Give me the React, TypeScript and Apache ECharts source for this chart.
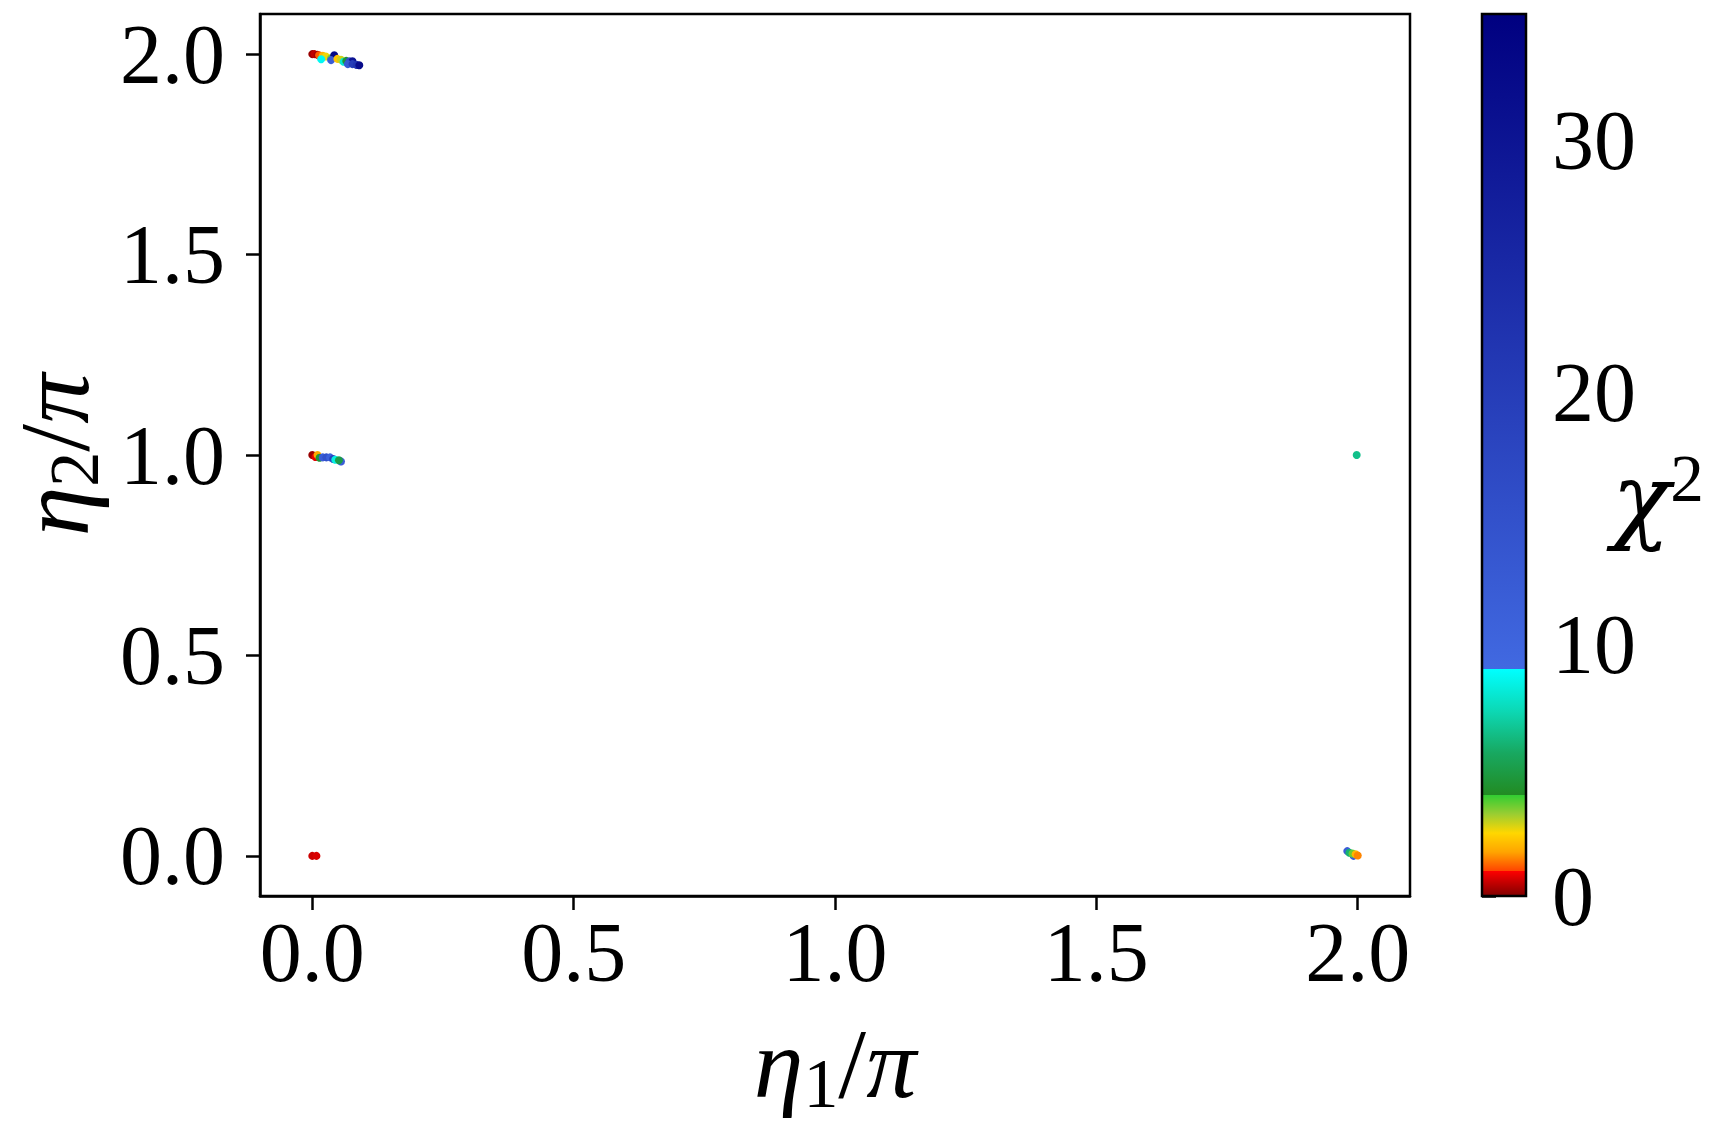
import React, { useEffect, useRef } from "react";
import * as echarts from "echarts";

// ---------- data ----------
const xTickValues = [0, 0.5, 1.0, 1.5, 2.0];
const yTickValues = [0, 0.5, 1.0, 1.5, 2.0];
const cbTickValues = [0, 10, 20, 30];

// eta1/pi, eta2/pi, chi^2 for each point
const eta1 = [
  // cluster near (0, 2)
  0.000, 0.004, 0.010, 0.013, 0.020, 0.026, 0.017, 0.036, 0.042, 0.036,
  0.048, 0.055, 0.060, 0.065, 0.071, 0.077, 0.068, 0.077, 0.085, 0.090,
  // cluster near (0, 1)
  0.000, 0.006, 0.010, 0.014, 0.020, 0.027, 0.034, 0.040, 0.044, 0.055, 0.051,
  // cluster near (0, 0)
  0.000, 0.008,
  // point at (2, 1)
  1.998,
  // cluster near (2, 0)
  1.980, 1.992, 1.984, 1.990, 1.996, 2.000,
];
const eta2 = [
  2.000, 2.000, 1.998, 1.997, 1.996, 1.994, 1.987, 1.990, 1.997, 1.985,
  1.988, 1.986, 1.981, 1.983, 1.982, 1.982, 1.975, 1.975, 1.973, 1.972,
  1.000, 0.995, 1.000, 0.993, 0.994, 0.994, 0.994, 0.990, 0.988, 0.984, 0.987,
  0.000, 0.000,
  1.000,
  0.012, 0.000, 0.008, 0.006, 0.004, 0.001,
];
const chi2 = [
  0.2, 0.5, 0.3, 1.2, 2.0, 2.6, 8.7, 3.5, 33, 12,
  2.2, 2.9, 8.0, 4.5, 16, 30, 13, 20, 22, 32,
  0.2, 0.8, 1.8, 4.6, 12, 15, 11, 19, 8.3, 12, 5.0,
  0.6, 0.7,
  6.5,
  12, 12, 6.0, 3.6, 2.0, 1.5,
];

const CHI_MIN = 0;
const CHI_MAX = 35;

// colormap segments (style)
const cmapSegments = [
  { lo: 0, hi: 1, colors: ["#800000", "#ff0000"] },
  { lo: 1, hi: 4, colors: ["#ff4500", "#ffa500", "#ffd700", "#9acd32", "#32cd32"] },
  { lo: 4, hi: 9, colors: ["#228b22", "#18a860", "#0cd8b4", "#00ffff"] },
  { lo: 9, hi: 35, colors: ["#4169e1", "#000080"] },
];

const FONT = "'Liberation Serif', 'DejaVu Serif', serif";
const GREEK_FONT = "'DejaVu Serif', 'Liberation Serif', serif";

function hexToRgb(h: string) {
  const n = parseInt(h.slice(1), 16);
  return [(n >> 16) & 255, (n >> 8) & 255, n & 255];
}
function mix(a: string, b: string, t: number) {
  const A = hexToRgb(a);
  const B = hexToRgb(b);
  const c = A.map((v, i) => Math.round(v + (B[i] - v) * t));
  return `rgb(${c[0]},${c[1]},${c[2]})`;
}
function cmap(v: number) {
  let seg = cmapSegments[cmapSegments.length - 1];
  for (const s of cmapSegments) {
    if (v >= s.lo && v < s.hi) {
      seg = s;
      break;
    }
  }
  const t = Math.max(0, Math.min(1, (v - seg.lo) / (seg.hi - seg.lo)));
  const n = seg.colors.length;
  const pos = t * (n - 1);
  const i0 = Math.min(n - 2, Math.floor(pos));
  return mix(seg.colors[i0], seg.colors[i0 + 1], pos - i0);
}
function gradientStops() {
  const stops: { offset: number; color: string }[] = [];
  for (let s = cmapSegments.length - 1; s >= 0; s--) {
    const seg = cmapSegments[s];
    const n = seg.colors.length;
    for (let k = n - 1; k >= 0; k--) {
      const value = seg.lo + ((seg.hi - seg.lo) * k) / (n - 1);
      stops.push({ offset: (CHI_MAX - value) / (CHI_MAX - CHI_MIN), color: seg.colors[k] });
    }
  }
  return stops;
}

const mathRich = (size: number) => ({
  i: { fontFamily: FONT, fontStyle: "italic", fontSize: size, color: "#000", lineHeight: size * 1.1 },
  c: { fontFamily: GREEK_FONT, fontStyle: "italic", fontSize: size, color: "#000", lineHeight: size * 1.1 },
  n: { fontFamily: FONT, fontSize: size, color: "#000", lineHeight: size * 1.1 },
  s: {
    fontFamily: FONT,
    fontSize: size * 0.7,
    color: "#000",
    lineHeight: size * 0.7,
    verticalAlign: "bottom",
  },
  p: {
    fontFamily: FONT,
    fontSize: size * 0.7,
    color: "#000",
    lineHeight: size * 0.7,
    verticalAlign: "top",
  },
});

export default function App() {
  const ref = useRef<HTMLDivElement>(null);
  useEffect(() => {
    if (!ref.current) return;
    const chart = echarts.init(ref.current, undefined, { renderer: "svg" });
    const axisLineStyle = { color: "#000", width: 2.5 };
    const tickLabel = { fontSize: 84, color: "#000", fontFamily: FONT };

    const points = eta1.map((x, i) => [x, eta2[i], chi2[i]]);

    chart.setOption({
      animation: false,
      backgroundColor: "#fff",
      grid: [
        {
          left: 260,
          top: 14,
          width: 1150,
          height: 882,
          show: true,
          borderColor: "#000",
          borderWidth: 2.5,
          backgroundColor: "rgba(0,0,0,0)",
          containLabel: false,
          outerBoundsMode: "none",
        },
        {
          left: 1482,
          top: 14,
          width: 44,
          height: 882,
          show: false,
          containLabel: false,
          outerBoundsMode: "none",
        },
      ],
      xAxis: [
        {
          gridIndex: 0,
          type: "value",
          min: -0.1,
          max: 2.1,
          axisLine: { show: true, onZero: false, lineStyle: axisLineStyle },
          axisTick: { show: true, length: 14, lineStyle: axisLineStyle, customValues: xTickValues },
          axisLabel: {
            ...tickLabel,
            customValues: xTickValues,
            formatter: (v: number) => v.toFixed(1),
            margin: 14,
          },
          splitLine: { show: false },
          name: "{i|η}{s|1}{n|/}{i|π}",
          nameLocation: "middle",
          nameGap: 112,
          nameTextStyle: { rich: mathRich(100) },
        },
        { gridIndex: 1, type: "value", min: 0, max: 1, show: false },
      ],
      yAxis: [
        {
          gridIndex: 0,
          type: "value",
          min: -0.1,
          max: 2.1,
          axisLine: { show: true, onZero: false, lineStyle: axisLineStyle },
          axisTick: { show: true, length: 14, lineStyle: axisLineStyle, customValues: yTickValues },
          axisLabel: {
            ...tickLabel,
            customValues: yTickValues,
            formatter: (v: number) => v.toFixed(1),
            margin: 35,
          },
          splitLine: { show: false },
          name: "{i|η}{s|2}{n|/}{i|π}",
          nameLocation: "middle",
          nameGap: 140,
          nameRotate: 90,
          nameTextStyle: { rich: mathRich(100) },
        },
        {
          gridIndex: 1,
          type: "value",
          position: "right",
          min: CHI_MIN,
          max: CHI_MAX,
          interval: 10,
          axisLine: { show: false },
          axisTick: { show: true, length: 14, lineStyle: axisLineStyle },
          axisLabel: { ...tickLabel, margin: 26, showMaxLabel: false },
          splitLine: { show: false },
        },
      ],
      graphic: [
        {
          type: "text",
          left: 1612,
          top: 445,
          style: {
            text: "{c|χ}{p|2}",
            rich: mathRich(96),
          },
        },
      ],
      series: [
        {
          type: "custom",
          xAxisIndex: 1,
          yAxisIndex: 1,
          data: [[0]],
          silent: true,
          renderItem: (_params: any, api: any) => {
            const p0 = api.coord([0, CHI_MAX]);
            const p1 = api.coord([1, CHI_MIN]);
            return {
              type: "rect",
              shape: { x: p0[0], y: p0[1], width: p1[0] - p0[0], height: p1[1] - p0[1] },
              style: {
                fill: new echarts.graphic.LinearGradient(0, 0, 0, 1, gradientStops()),
                stroke: "#000",
                lineWidth: 2.5,
              },
            };
          },
        },
        {
          type: "scatter",
          xAxisIndex: 0,
          yAxisIndex: 0,
          symbolSize: 8,
          data: points,
          itemStyle: { color: (p: any) => cmap(p.value[2]), opacity: 1 },
        },
      ],
    });
    return () => chart.dispose();
  }, []);
  return (
    <div
      ref={ref}
      style={{ position: "absolute", left: 0, top: 0, width: 1714, height: 1130 }}
    />
  );
}
